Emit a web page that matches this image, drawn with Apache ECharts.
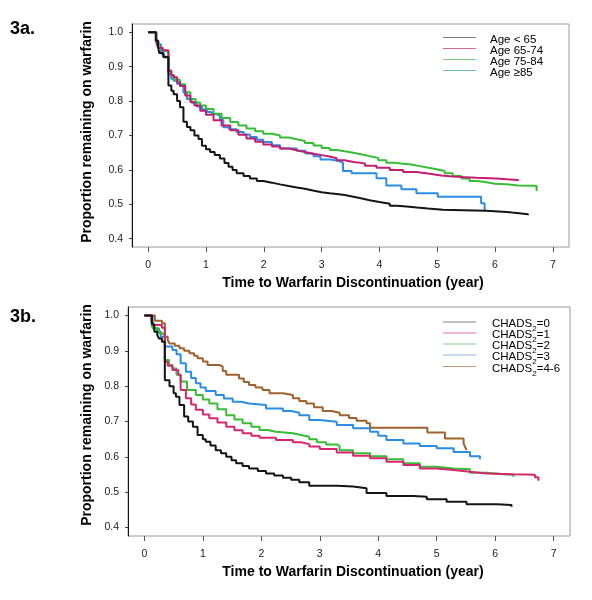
<!DOCTYPE html>
<html>
<head>
<meta charset="utf-8">
<script src="https://cdn.jsdelivr.net/npm/echarts@6/dist/echarts.min.js"></script>
<style>html,body{margin:0;padding:0;background:#fff;}#c{width:592px;height:600px;}</style>
</head>
<body>
<div id="c"></div>
<script>
// ---------- Data (time in years, proportion remaining) ----------
const xTickValues = [0, 1, 2, 3, 4, 5, 6, 7];
const yTickValues = [0.4, 0.5, 0.6, 0.7, 0.8, 0.9, 1.0];

const ageNames = ['Age < 65', 'Age 65-74', 'Age 75-84', 'Age \u226585'];
const chadsNames = ['CHADS2=0', 'CHADS2=1', 'CHADS2=2', 'CHADS2=3', 'CHADS2=4-6'];

const ageUnder65 = [[0,1],[0.13,0.975],[0.17,0.96],[0.19,0.94],[0.26,0.928],[0.35,0.845],[0.40,0.83],[0.44,0.82],[0.50,0.80],[0.55,0.782],[0.61,0.74],[0.67,0.725],[0.73,0.715],[0.80,0.70],[0.87,0.69],[0.93,0.67],[1.0,0.66],[1.07,0.652],[1.15,0.643],[1.24,0.633],[1.32,0.62],[1.39,0.609],[1.46,0.60],[1.53,0.59],[1.65,0.582],[1.76,0.575],[1.88,0.568],[1.99,0.563],[2.14,0.558],[2.28,0.553],[2.43,0.549],[2.57,0.545],[2.71,0.54],[2.85,0.535],[3.0,0.532],[3.14,0.53],[3.26,0.527],[3.40,0.522],[3.55,0.517],[3.70,0.512],[3.83,0.507],[4.0,0.502],[4.18,0.496],[4.30,0.494],[4.47,0.491],[4.65,0.488],[4.84,0.484],[5.1,0.483],[5.45,0.481],[5.85,0.478],[6.20,0.476],[6.30,0.471],[6.57,0.468]];
const age65to74 = [[0,1],[0.14,0.97],[0.17,0.955],[0.25,0.948],[0.35,0.888],[0.40,0.875],[0.44,0.869],[0.50,0.855],[0.55,0.844],[0.64,0.816],[0.73,0.797],[0.80,0.787],[0.90,0.772],[1.0,0.76],[1.13,0.744],[1.27,0.729],[1.42,0.715],[1.56,0.702],[1.70,0.691],[1.85,0.682],[1.99,0.674],[2.14,0.668],[2.28,0.662],[2.43,0.657],[2.57,0.652],[2.71,0.647],[2.86,0.643],[3.0,0.639],[3.14,0.634],[3.26,0.628],[3.40,0.623],[3.55,0.619],[3.75,0.612],[3.95,0.606],[4.18,0.60],[4.41,0.594],[4.64,0.589],[4.87,0.584],[5.07,0.581],[5.27,0.579],[5.48,0.577],[5.68,0.575],[6.02,0.573],[6.20,0.571],[6.40,0.568]];
const age75to84 = [[0,1],[0.14,0.975],[0.18,0.955],[0.25,0.945],[0.35,0.888],[0.40,0.875],[0.45,0.862],[0.55,0.849],[0.64,0.826],[0.73,0.806],[0.82,0.796],[0.90,0.787],[1.0,0.777],[1.13,0.763],[1.27,0.751],[1.42,0.739],[1.56,0.729],[1.70,0.72],[1.85,0.712],[1.99,0.705],[2.14,0.70],[2.28,0.694],[2.43,0.689],[2.57,0.684],[2.71,0.678],[2.86,0.671],[3.0,0.664],[3.14,0.658],[3.26,0.654],[3.40,0.65],[3.55,0.645],[3.70,0.64],[3.83,0.635],[3.98,0.628],[4.12,0.621],[4.26,0.618],[4.41,0.616],[4.55,0.611],[4.70,0.606],[4.85,0.602],[4.99,0.597],[5.13,0.59],[5.27,0.582],[5.42,0.575],[5.56,0.568],[5.70,0.564],[5.85,0.56],[6.0,0.558],[6.20,0.555],[6.40,0.554],[6.68,0.553],[6.72,0.539]];
const age85plus = [[0,1],[0.14,0.985],[0.17,0.965],[0.22,0.945],[0.24,0.936],[0.28,0.927],[0.35,0.878],[0.40,0.865],[0.44,0.859],[0.50,0.85],[0.55,0.844],[0.61,0.825],[0.67,0.806],[0.75,0.795],[0.84,0.784],[0.93,0.776],[1.02,0.768],[1.10,0.762],[1.19,0.758],[1.24,0.745],[1.30,0.724],[1.40,0.718],[1.53,0.71],[1.65,0.703],[1.76,0.696],[1.88,0.688],[1.99,0.681],[2.14,0.672],[2.28,0.662],[2.57,0.656],[2.72,0.648],[2.86,0.64],[2.98,0.63],[3.15,0.625],[3.32,0.621],[3.37,0.597],[3.52,0.59],[3.95,0.576],[4.12,0.555],[4.38,0.544],[4.64,0.532],[5.01,0.522],[5.76,0.503],[5.82,0.478]];

const chads0 = [[0,1],[0.13,0.975],[0.17,0.954],[0.22,0.945],[0.25,0.935],[0.30,0.926],[0.35,0.817],[0.43,0.80],[0.50,0.78],[0.54,0.77],[0.60,0.747],[0.68,0.714],[0.75,0.70],[0.83,0.685],[0.91,0.662],[1.0,0.65],[1.05,0.643],[1.13,0.632],[1.22,0.619],[1.31,0.61],[1.40,0.60],[1.49,0.59],[1.57,0.582],[1.68,0.574],[1.79,0.567],[1.94,0.56],[2.08,0.553],[2.22,0.547],[2.37,0.541],[2.51,0.535],[2.65,0.528],[2.82,0.518],[3.3,0.516],[3.57,0.511],[3.80,0.498],[4.14,0.489],[4.6,0.487],[4.83,0.48],[5.17,0.473],[5.51,0.466],[6.03,0.464],[6.28,0.459]];
const chads1 = [[0,1],[0.12,0.985],[0.15,0.973],[0.30,0.965],[0.35,0.869],[0.40,0.858],[0.48,0.846],[0.58,0.832],[0.62,0.789],[0.71,0.766],[0.80,0.748],[0.88,0.733],[1.0,0.72],[1.11,0.709],[1.25,0.697],[1.40,0.685],[1.54,0.675],[1.68,0.667],[1.83,0.66],[1.97,0.654],[2.25,0.648],[2.54,0.641],[2.68,0.636],[2.82,0.629],[3.0,0.622],[3.29,0.612],[3.57,0.603],[3.86,0.596],[4.14,0.586],[4.43,0.577],[4.71,0.567],[5.0,0.563],[5.29,0.558],[5.57,0.553],[5.86,0.551],[6.3,0.55],[6.54,0.549],[6.68,0.542],[6.74,0.532]];
const chads2 = [[0,1],[0.12,0.98],[0.14,0.964],[0.25,0.95],[0.30,0.945],[0.35,0.874],[0.42,0.86],[0.48,0.85],[0.55,0.832],[0.62,0.813],[0.73,0.789],[0.88,0.775],[1.0,0.762],[1.11,0.751],[1.25,0.735],[1.40,0.718],[1.54,0.706],[1.68,0.695],[1.83,0.685],[1.97,0.676],[2.11,0.671],[2.25,0.667],[2.54,0.662],[2.68,0.657],[2.82,0.65],[2.95,0.641],[3.11,0.635],[3.30,0.63],[3.34,0.619],[3.57,0.61],[3.86,0.602],[4.14,0.593],[4.43,0.582],[4.71,0.572],[5.0,0.567],[5.29,0.565],[5.57,0.555],[5.86,0.551],[6.14,0.549],[6.31,0.544]];
const chads3 = [[0,1],[0.14,0.985],[0.17,0.964],[0.22,0.955],[0.28,0.94],[0.35,0.912],[0.48,0.902],[0.55,0.89],[0.62,0.865],[0.71,0.841],[0.80,0.823],[0.88,0.808],[0.96,0.796],[1.05,0.786],[1.22,0.775],[1.36,0.765],[1.51,0.756],[1.65,0.751],[1.79,0.747],[2.08,0.737],[2.37,0.73],[2.51,0.725],[2.65,0.718],[2.82,0.704],[3.0,0.699],[3.29,0.69],[3.57,0.681],[3.86,0.671],[4.0,0.66],[4.14,0.648],[4.43,0.638],[4.71,0.631],[5.0,0.624],[5.29,0.614],[5.57,0.602],[5.74,0.593]];
const chads4to6 = [[0,1],[0.18,0.985],[0.30,0.978],[0.35,0.94],[0.40,0.93],[0.43,0.921],[0.52,0.914],[0.60,0.907],[0.68,0.9],[0.77,0.893],[0.85,0.886],[0.91,0.879],[1.0,0.87],[1.08,0.86],[1.28,0.855],[1.34,0.843],[1.40,0.832],[1.62,0.822],[1.70,0.812],[1.79,0.803],[1.90,0.796],[2.02,0.789],[2.14,0.78],[2.37,0.775],[2.54,0.766],[2.65,0.758],[2.77,0.751],[2.90,0.74],[3.05,0.73],[3.20,0.725],[3.34,0.718],[3.50,0.71],[3.63,0.702],[3.80,0.695],[3.86,0.682],[4.84,0.669],[5.14,0.652],[5.46,0.638],[5.48,0.63],[5.51,0.619]];

// ---------- Styling ----------
const FONT = "'Liberation Sans', Arial, Helvetica, sans-serif";
const ageColors = ['#141414', '#c41f6f', '#35bd35', '#2b8de2'];
const ageLegendColors = ['#808080', '#d4679b', '#7cca86', '#72c4a8'];
const chadsColors = ['#141414', '#d6266f', '#35bd35', '#2b8de2', '#a0622d'];
const chadsLegendColors = ['#808080', '#e2709f', '#86d08a', '#85b4e6', '#c49a74'];

const ageData = [ageUnder65, age65to74, age75to84, age85plus];
const chadsData = [chads0, chads1, chads2, chads3, chads4to6];

function xAxisFor(i) {
  return {
    gridIndex: i, type: 'value', min: -0.28, max: 7.28,
    axisLine: { show: false, onZero: false },
    splitLine: { show: false },
    axisTick: { show: true, customValues: xTickValues, length: 5, lineStyle: { color: '#555' } },
    axisLabel: { customValues: xTickValues, margin: 13, fontSize: 10.5, color: '#222', fontFamily: FONT }
  };
}
function yAxisFor(i) {
  return {
    gridIndex: i, type: 'value', min: 0.376, max: 1.024,
    axisLine: { show: true, onZero: false, lineStyle: { color: '#111', width: 1 } },
    splitLine: { show: false },
    axisTick: { show: true, customValues: yTickValues, length: 3, lineStyle: { color: '#444' } },
    axisLabel: { customValues: yTickValues, margin: 9, fontSize: 10.5, color: '#222', fontFamily: FONT,
      formatter: v => v.toFixed(1) }
  };
}

const series = [];
ageData.forEach((d, k) => series.push({
  name: ageNames[k], type: 'line', xAxisIndex: 0, yAxisIndex: 0, data: d, step: 'end',
  symbol: 'none', showSymbol: false, lineStyle: { width: 2, color: ageColors[k] }, itemStyle: { color: ageColors[k] },
  z: 10 - k
}));
chadsData.forEach((d, k) => series.push({
  name: chadsNames[k], type: 'line', xAxisIndex: 1, yAxisIndex: 1, data: d, step: 'end',
  symbol: 'none', showSymbol: false, lineStyle: { width: 2, color: chadsColors[k] }, itemStyle: { color: chadsColors[k] },
  z: 10 - k
}));

const graphics = [];
function txt(x, y, text, size, bold, align, rot) {
  graphics.push({ type: 'text', x: x, y: y, rotation: rot || 0,
    style: { text: text, fontSize: size, fontWeight: bold ? 'bold' : 'normal', fontFamily: FONT, fill: '#000',
      align: align || 'left', verticalAlign: 'middle' } });
}
txt(10, 29, '3a.', 18, true);
txt(10, 317, '3b.', 18, true);
txt(87, 132, 'Proportion remaining on warfarin', 14, true, 'center', Math.PI / 2);
txt(87, 415, 'Proportion remaining on warfarin', 14, true, 'center', Math.PI / 2);
txt(353, 283, 'Time to Warfarin Discontinuation (year)', 14, true, 'center');
txt(353, 572, 'Time to Warfarin Discontinuation (year)', 14, true, 'center');

// legends
const ageLegendY = [37.5, 48.5, 59.5, 70.5];
ageNames.forEach((n, k) => {
  graphics.push({ type: 'line', shape: { x1: 443, y1: ageLegendY[k], x2: 476, y2: ageLegendY[k] },
    style: { stroke: ageLegendColors[k], lineWidth: 1 } });
  txt(490, ageLegendY[k] + 2, n, 11.5, false);
});
const chadsLegendY = [322, 333, 344, 355, 366.5];
const chadsSuffix = ['=0', '=1', '=2', '=3', '=4-6'];
chadsNames.forEach((n, k) => {
  graphics.push({ type: 'line', shape: { x1: 443, y1: chadsLegendY[k], x2: 476, y2: chadsLegendY[k] },
    style: { stroke: chadsLegendColors[k], lineWidth: 1 } });
  graphics.push({ type: 'text', x: 492, y: chadsLegendY[k] + 2,
    style: { text: '{m|CHADS}{s|2}{m|' + chadsSuffix[k] + '}', fontFamily: FONT, fill: '#000', align: 'left', verticalAlign: 'middle',
      rich: {
        m: { fontSize: 11.5, fontFamily: FONT, lineHeight: 12, verticalAlign: 'bottom' },
        s: { fontSize: 8, fontFamily: FONT, lineHeight: 12, verticalAlign: 'bottom', padding: [0, 0, -3, 0] }
      } } });
});

const chart = echarts.init(document.getElementById('c'), null, { renderer: 'canvas' });
chart.setOption({
  animation: false,
  backgroundColor: '#fff',
  grid: [
    { left: 132, top: 24, width: 437, height: 223, show: true, borderColor: '#9a9a9a', borderWidth: 1, containLabel: false },
    { left: 128, top: 307, width: 442, height: 229, show: true, borderColor: '#9a9a9a', borderWidth: 1, containLabel: false }
  ],
  xAxis: [xAxisFor(0), xAxisFor(1)],
  yAxis: [yAxisFor(0), yAxisFor(1)],
  series: series,
  graphic: graphics
});
</script>
</body>
</html>
